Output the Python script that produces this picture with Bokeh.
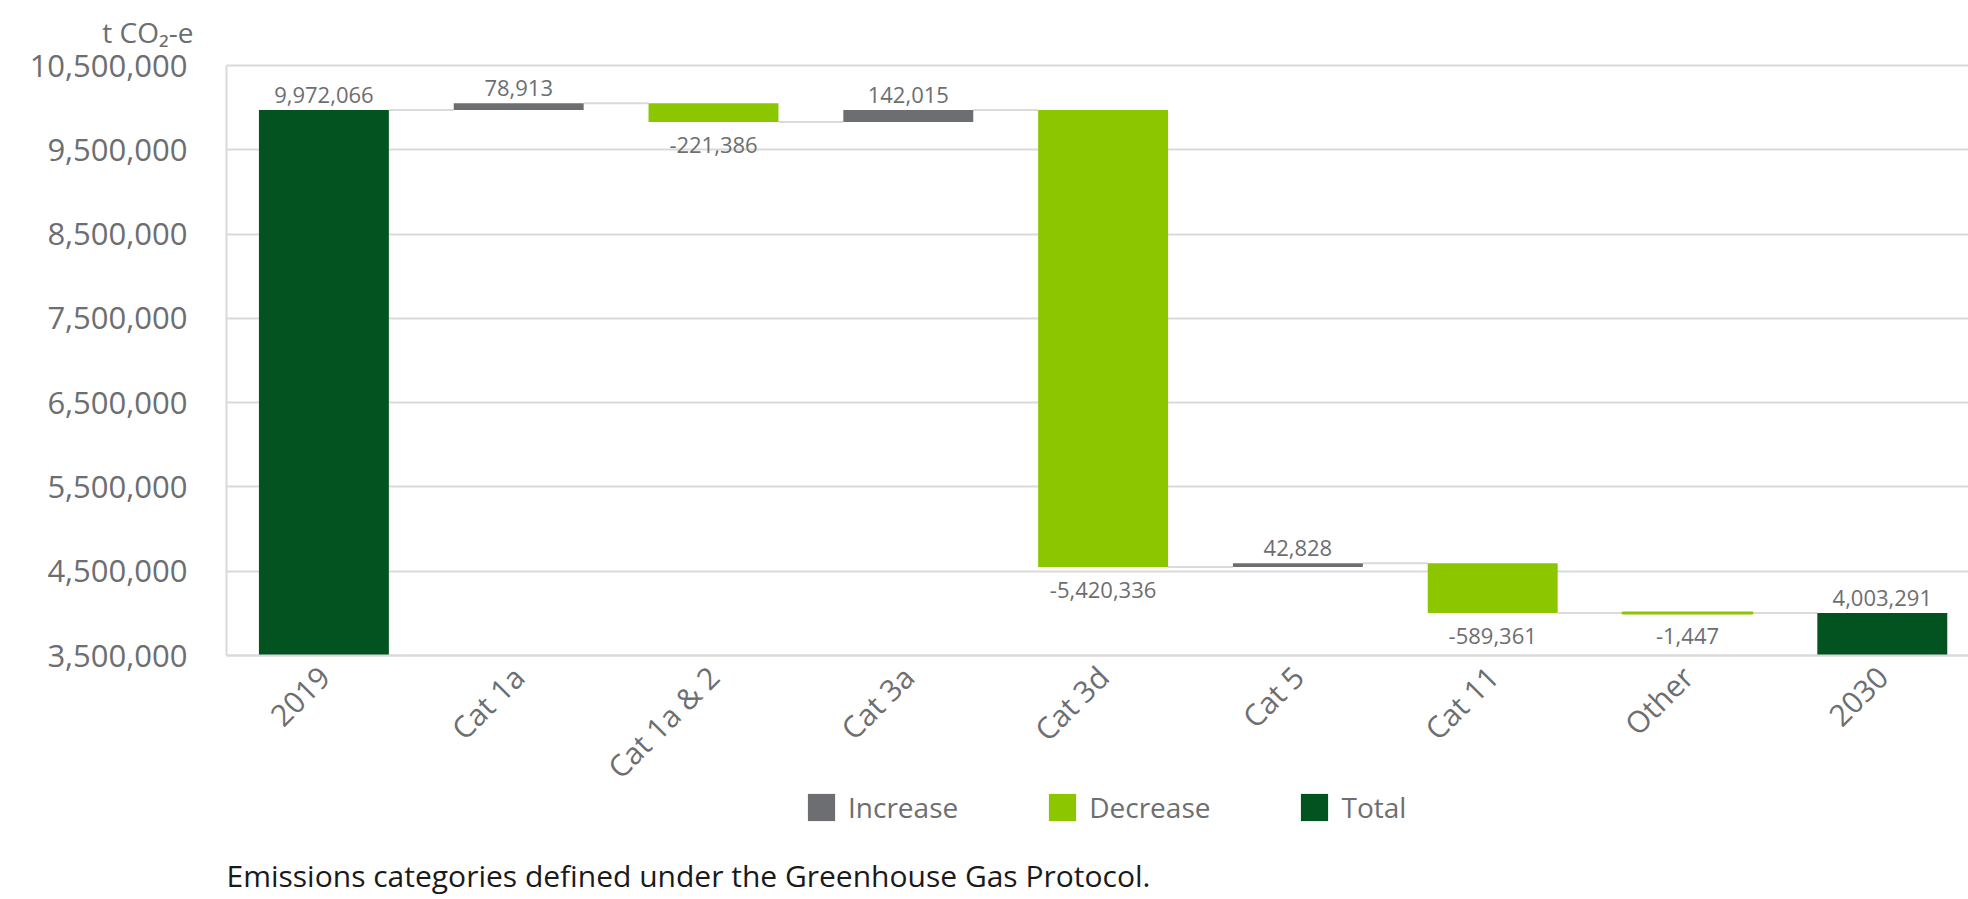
from bokeh.plotting import figure
from bokeh.models import (ColumnDataSource, FixedTicker, Legend, LegendItem, Label,
                          NumeralTickFormatter, Range1d)
from bokeh.core.properties import value
from bokeh.embed import file_html
from bokeh.resources import INLINE

# ---- data -------------------------------------------------------------
categories = ["2019", "Cat 1a", "Cat 1a & 2", "Cat 3a", "Cat 3d", "Cat 5", "Cat 11", "Other", "2030"]
changes = [9972066, 78913, -221386, 142015, -5420336, 42828, -589361, -1447, 4003291]
kinds = ["Total", "Increase", "Decrease", "Increase", "Decrease", "Increase", "Decrease", "Decrease", "Total"]
y_ticks = [3500000, 4500000, 5500000, 6500000, 7500000, 8500000, 9500000, 10500000]
unit_label = "t CO\u2082-e"
footnote = "Emissions categories defined under the Greenhouse Gas Protocol."

palette = {"Increase": "#6d6e71", "Decrease": "#8cc600", "Total": "#02531f"}
FONT = "Open Sans"
GREY = "#6d6e71"
GRID = "#dadada"

# ---- page layout (pixels) --------------------------------------------
W, H = 1968, 899
AX_LEFT, AX_TOP, AX_BOTTOM = 226, 65, 655
CAT_PX = 194.8                                   # pixel width of one category
base, y_top = y_ticks[0], y_ticks[-1]
py = (AX_BOTTOM - AX_TOP) / (y_top - base)       # pixels per unit
x_start = -0.5 - AX_LEFT / CAT_PX
x_end = x_start + W / CAT_PX
y_end = y_top + AX_TOP / py
y_start = y_top - (H - AX_TOP) / py

# ---- waterfall geometry ----------------------------------------------
xs, bottoms, tops, colors, label_y, label_off, texts, lws = [], [], [], [], [], [], [], []
running = 0
levels = []
for i, (c, k) in enumerate(zip(changes, kinds)):
    if k == "Total":
        b, t = base, c
        running = c
    else:
        b, t = (running, running + c) if c >= 0 else (running + c, running)
        running += c
    levels.append(running if k != "Total" else c)
    xs.append(i)
    bottoms.append(b)
    tops.append(t)
    colors.append(palette[k])
    texts.append(f"{c:,}")
    lws.append(3 if abs(c) < 20000 else 0)
    if k == "Decrease":
        label_y.append(b)
        label_off.append(23)
    else:
        label_y.append(t)
        label_off.append(-15)

src = ColumnDataSource(dict(x=xs, bottom=bottoms, top=tops, color=colors,
                            ly=label_y, loff=label_off, text=texts, lw=lws, kind=kinds))

bw = 0.667
conn = ColumnDataSource(dict(
    x0=[i + bw / 2 for i in range(len(categories) - 1)],
    x1=[i + 1 - bw / 2 for i in range(len(categories) - 1)],
    y=levels[:-1],
))

p = figure(width=W, height=H, output_backend="svg", toolbar_location=None,
           x_range=Range1d(x_start, x_end), y_range=Range1d(y_start, y_end),
           min_border=0)
p.title.visible = False
p.outline_line_color = None
p.background_fill_color = "white"
p.border_fill_color = "white"

# connectors
p.segment(x0="x0", y0="y", x1="x1", y1="y", source=conn, line_color=GRID, line_width=2)

bars = p.vbar(x="x", bottom="bottom", top="top", width=bw, source=src,
              fill_color="color", line_color="color", line_width="lw")

p.text(x="x", y="ly", text="text", source=src, y_offset="loff",
       text_align="center", text_baseline="alphabetic",
       text_font=value(FONT), text_font_size="22px", text_color=GREY)

# axes (fixed inside the full-page frame)
p.xaxis.fixed_location = base
p.xaxis.bounds = (-0.5, x_end)
p.xaxis.ticker = FixedTicker(ticks=list(range(len(categories))))
p.xaxis.major_label_overrides = {i: c for i, c in enumerate(categories)}
p.xaxis.major_label_orientation = 0.785398
p.xaxis.major_label_text_font = FONT
p.xaxis.major_label_text_font_size = "30px"
p.xaxis.major_label_text_color = GREY
p.xaxis.major_label_standoff = 10
p.xaxis.major_tick_line_color = None
p.xaxis.minor_tick_line_color = None
p.xaxis.axis_line_color = GRID
p.xaxis.axis_line_width = 2

p.yaxis.fixed_location = -0.5
p.yaxis.ticker = FixedTicker(ticks=y_ticks)
p.yaxis.bounds = (base, y_top)
p.yaxis.formatter = NumeralTickFormatter(format="0,0")
p.yaxis.major_label_text_font = FONT
p.yaxis.major_label_text_font_size = "31px"
p.yaxis.major_label_text_color = GREY
p.yaxis.major_label_text_baseline = "hanging"
p.yaxis.major_label_standoff = 33
p.yaxis.major_tick_line_color = None
p.yaxis.minor_tick_line_color = None
p.yaxis.axis_line_color = GRID
p.yaxis.axis_line_width = 2

p.xgrid.grid_line_color = None
p.ygrid.grid_line_color = GRID
p.ygrid.grid_line_width = 2
p.ygrid.bounds = (base, y_top)
if "cross_bounds" in p.ygrid[0].properties():
    p.ygrid.cross_bounds = (-0.5, x_end)

# unit label
p.add_layout(Label(x=AX_LEFT - 33, y=H - 31, x_units="screen", y_units="screen",
                   text=unit_label, text_align="right", text_baseline="middle",
                   text_font=FONT, text_font_size="28px", text_color=GREY))

# legend
items = []
for k in ["Increase", "Decrease", "Total"]:
    items.append(LegendItem(label=k, renderers=[bars], index=kinds.index(k)))
legend = Legend(items=items, orientation="horizontal", location=(804, 73),
                glyph_width=34, glyph_height=34, label_standoff=10, label_width=0,
                label_height=34, spacing=87, padding=0, margin=0,
                border_line_color=None, background_fill_alpha=0,
                label_text_font=FONT, label_text_font_size="28px", label_text_color=GREY)
p.add_layout(legend)

# footnote
p.add_layout(Label(x=AX_LEFT, y=24, x_units="screen", y_units="screen", text=footnote,
                   text_align="left", text_baseline="middle", text_font=FONT,
                   text_font_size="30px", text_color="#1a1a1a"))

open("out.html", "w").write(file_html(p, INLINE))
